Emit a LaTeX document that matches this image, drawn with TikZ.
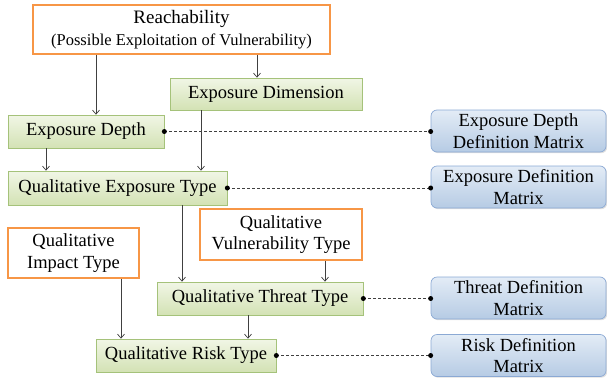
\documentclass[tikz,border=0pt]{standalone}
\usepackage{fontspec}
\setmainfont{Liberation Serif}
\usepackage{tikz}
\usetikzlibrary{shadows, arrows.meta}

\definecolor{origline}{HTML}{F79646}
\definecolor{stepline}{HTML}{A5C27A}
\definecolor{steptop}{HTML}{F1F6E6}
\definecolor{stepbot}{HTML}{D3E2B4}
\definecolor{matline}{HTML}{8BA9D4}
\definecolor{mattop}{HTML}{E3ECF6}
\definecolor{matbot}{HTML}{B6CBE4}
\definecolor{linkgray}{HTML}{404040}

\begin{document}
\begin{tikzpicture}[
		x=1pt, y=1pt,
		font=\fontsize{18.5}{21.5}\selectfont,
		origin/.style={rectangle, draw=origline, line width=1.6pt, fill=white, align=center, inner sep=1pt},
		stepbox/.style={rectangle, draw=stepline, line width=0.7pt, top color=steptop, bottom color=stepbot, align=center, inner sep=1pt,
			drop shadow={shadow xshift=1.2pt, shadow yshift=-1.2pt, opacity=0.25}},
		matrixbox/.style={rectangle, draw=matline, line width=0.7pt, rounded corners=6pt, top color=mattop, bottom color=matbot, align=center, inner sep=1pt,
			minimum width=175pt, minimum height=42pt,
			drop shadow={shadow xshift=1.2pt, shadow yshift=-1.2pt, opacity=0.25}},
		arrow/.style={-{Straight Barb[length=4pt, width=7pt]}, draw=linkgray, line width=0.7pt},
		link/.style={draw=linkgray, line width=0.7pt, dash pattern=on 3pt off 2pt},
		dot/.style={circle, fill=black, inner sep=0pt, minimum size=5pt}
	]
		\useasboundingbox (0,0) rectangle (607,-383);

		% Inputs
		\node[origin, minimum width=297pt, minimum height=49pt] (reach) at (181.5,-29.5)
			{{\fontsize{19}{20}\selectfont Reachability}\\{\fontsize{16.5}{20}\selectfont (Possible Exploitation of Vulnerability)}};
		\node[origin, minimum width=162pt, minimum height=51pt] (vuln) at (281,-234.5) {Qualitative\\Vulnerability Type};
		\node[origin, minimum width=131pt, minimum height=50pt] (impact) at (73.5,-253) {Qualitative\\Impact Type};

		% Steps
		\node[stepbox, minimum width=192pt, minimum height=32pt] (dim) at (266,-94) {Exposure Dimension};
		\node[stepbox, minimum width=156pt, minimum height=33pt] (depth) at (86,-131.5) {Exposure Depth};
		\node[stepbox, minimum width=219pt, minimum height=34pt] (exptype) at (117.5,-188) {Qualitative Exposure Type};
		\node[stepbox, minimum width=206pt, minimum height=33pt] (threat) at (260,-298.5) {Qualitative Threat Type};
		\node[stepbox, minimum width=180pt, minimum height=33pt] (risk) at (186,-355.5) {Qualitative Risk Type};

		% Matrices
		\node[matrixbox] (depthmat) at (518.5,-131) {Exposure Depth\\Definition Matrix};
		\node[matrixbox] (expmat) at (518.5,-187) {Exposure Definition\\Matrix};
		\node[matrixbox] (threatmat) at (518.5,-298) {Threat Definition\\Matrix};
		\node[matrixbox] (riskmat) at (518.5,-355.5) {Risk Definition\\Matrix};

		% Arrows
		\draw[arrow] ([xshift=10pt]depth.north |- reach.south) -- ([xshift=10pt]depth.north);
		\draw[arrow] ([xshift=-9pt]dim.north |- reach.south) -- ([xshift=-9pt]dim.north);
		\draw[arrow] ([xshift=-40pt]depth.south) -- ([xshift=-40pt]depth.south |- exptype.north);
		\draw[arrow] ([xshift=-65pt]dim.south) -- ([xshift=-65pt]dim.south |- exptype.north);
		\draw[arrow] ([xshift=-78pt]threat.north |- exptype.south) -- ([xshift=-78pt]threat.north);
		\draw[arrow] ([xshift=44pt]vuln.south) -- ([xshift=44pt]vuln.south |- threat.north);
		\draw[arrow] ([xshift=47.5pt]impact.south) -- ([xshift=47.5pt]impact.south |- risk.north);
		\draw[arrow] ([xshift=-12pt]threat.south) -- ([xshift=-12pt]threat.south |- risk.north);

		% Links
		\foreach \src/\dst in {depth/depthmat, exptype/expmat, threat/threatmat, risk/riskmat} {
			\draw[link] (\src.east) -- (\src.east -| \dst.west);
			\node[dot] at (\src.east) {};
			\node[dot] at (\src.east -| \dst.west) {};
		}
	\end{tikzpicture}
\end{document}
